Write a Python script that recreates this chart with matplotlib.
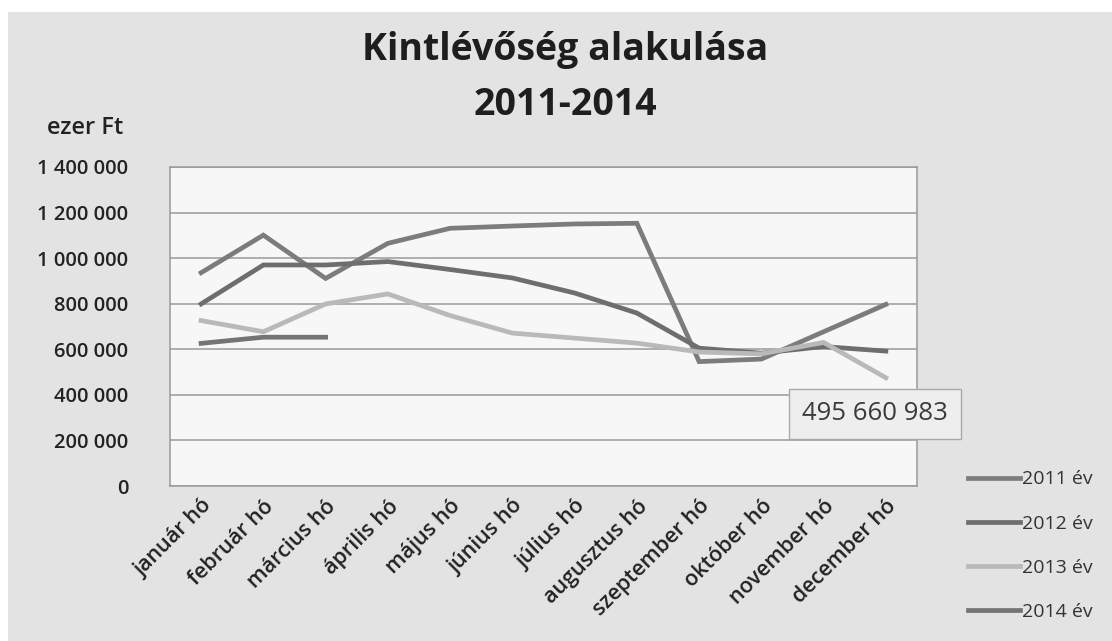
import matplotlib.pyplot as plt
from matplotlib.patches import Rectangle
from matplotlib.ticker import FuncFormatter
import matplotlib.transforms as mtrans

# kintlevoseg (ezer Ft), honaponkent
honapok = ['január hó', 'február hó', 'március hó', 'április hó', 'május hó',
           'június hó', 'július hó', 'augusztus hó', 'szeptember hó',
           'október hó', 'november hó', 'december hó']
ev2011 = [936000, 1101000, 911000, 1065000, 1131000, 1141000, 1150000, 1153000,
          546000, 557000, 677000, 797000]
ev2012 = [799000, 970000, 970000, 985000, 950000, 913000, 847000, 759000,
          605000, 583000, 612000, 592000]
ev2013 = [726000, 677000, 799000, 843000, 748000, 671000, 649000, 627000,
          588000, 580000, 630000, 475000]
ev2014 = [626000, 653000, 653000]
nevek = ['2011 év', '2012 év', '2013 év', '2014 év']
szinek = ['#7c7c7c', '#6e6e6e', '#b9b9b9', '#747474']
osszeg = '495 660 983'

plt.rcParams['font.family'] = ['Open Sans', 'DejaVu Sans']

fig = plt.figure(figsize=(11.12, 6.41), dpi=100)
fig.patch.set_facecolor('white')
# szurke hatter, felul/balra keskeny feher sav
fig.patches.append(Rectangle((8 / 1112, 0), 1, 1 - 12 / 641, transform=fig.transFigure,
                             facecolor='#e3e3e3', edgecolor='none', zorder=-1))

ax = fig.add_axes([170 / 1112, 1 - 486 / 641, 747 / 1112, 319 / 641])
ax.set_facecolor('#f7f7f7')

x = list(range(len(honapok)))
for adat, nev, szin in zip([ev2011, ev2012, ev2013, ev2014], nevek, szinek):
    ax.plot(x[:len(adat)], adat, color=szin, lw=3.4, label=nev, solid_joinstyle='miter')

ax.set_xlim(-0.5, len(honapok) - 0.5)
ax.set_ylim(0, 1400000)
ax.set_yticks(range(0, 1400001, 200000))
ax.yaxis.set_major_formatter(FuncFormatter(lambda v, p: f'{int(v):,}'.replace(',', ' ')))
ax.grid(axis='y', color='#9a9a9a', lw=1.1)
ax.set_axisbelow(True)
for s in ax.spines.values():
    s.set_color('#9a9a9a')
    s.set_linewidth(1.1)

ax.set_xticks(x)
ax.set_xticklabels(honapok, rotation=45, ha='right', rotation_mode='anchor',
                   fontsize=15.5, color='#222222', fontweight='semibold')
eltol = mtrans.ScaledTranslation(6 / 100, 0, fig.dpi_scale_trans)
for t in ax.get_xticklabels():
    t.set_transform(t.get_transform() + eltol)
ax.tick_params(axis='x', length=0, pad=7)
ax.tick_params(axis='y', length=0, pad=30, labelsize=14.5, labelcolor='#222222')
for t in ax.get_yticklabels():
    t.set_fontweight('semibold')

fig.text(565 / 1112, 1 - 50 / 641, 'Kintlévőség alakulása', ha='center', va='center',
         fontsize=27, fontweight='bold', color='#1e1e1e')
fig.text(565 / 1112, 1 - 105 / 641, '2011-2014', ha='center', va='center',
         fontsize=27, fontweight='bold', color='#1e1e1e')
fig.text(85 / 1112, 1 - 128 / 641, 'ezer Ft', ha='center', va='center',
         fontsize=17, fontweight='semibold', color='#222222')

fig.text(875 / 1112, 1 - 414 / 641, osszeg, ha='center', va='center', fontsize=18.5,
         color='#3a3a3a',
         bbox=dict(boxstyle='square,pad=0.5', facecolor='#eeeeee', edgecolor='#aaaaaa'))

fig.legend(loc='upper left', bbox_to_anchor=(950 / 1112, 1 - 453 / 641), frameon=False,
           fontsize=14, handlelength=2.7, handletextpad=0.1, labelspacing=1.35,
           labelcolor='#333333')

fig.savefig('out.png', dpi=100, facecolor=fig.get_facecolor())
